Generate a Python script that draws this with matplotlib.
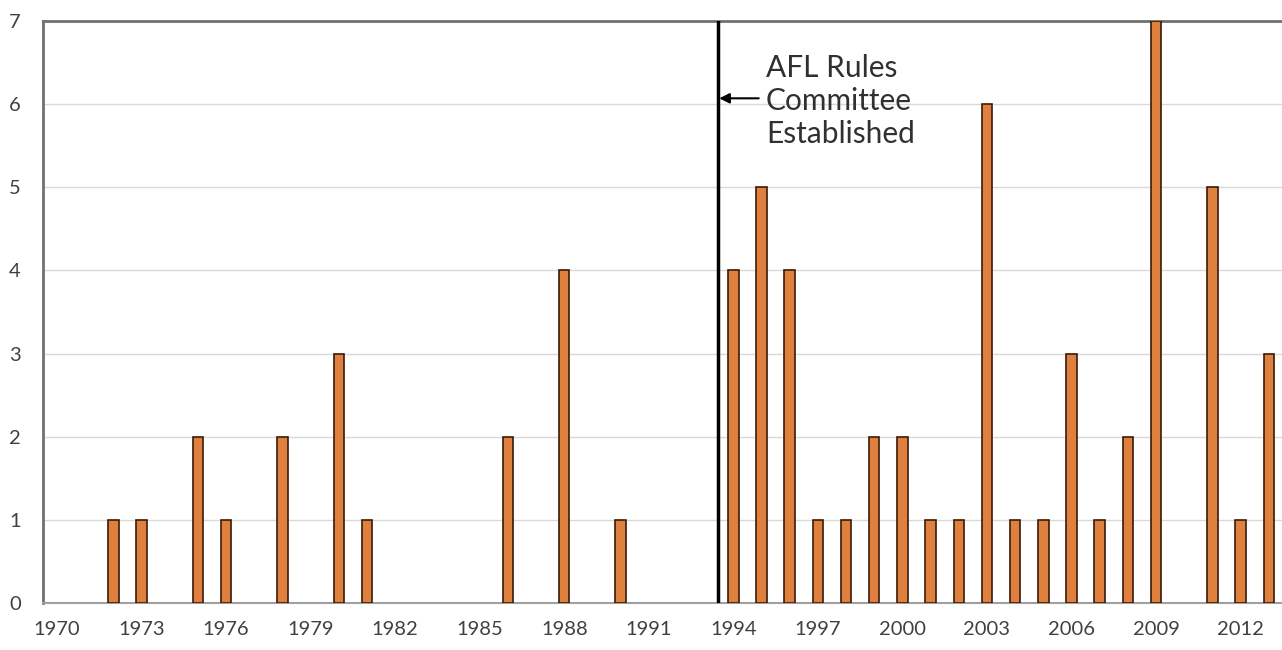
import matplotlib.pyplot as plt

# Number of events per year
years = [1972, 1973, 1975, 1976, 1978, 1980, 1981, 1986, 1988, 1990,
         1994, 1995, 1996, 1997, 1998, 1999, 2000, 2001, 2002, 2003,
         2004, 2005, 2006, 2007, 2008, 2009, 2011, 2012, 2013]
counts = [1, 1, 2, 1, 2, 3, 1, 2, 4, 1,
          4, 5, 4, 1, 1, 2, 2, 1, 1, 6,
          1, 1, 3, 1, 2, 7, 5, 1, 3]
tick_years = list(range(1970, 2013, 3))
event_year = 1993.45
event_label = 'AFL Rules\nCommittee\nEstablished'

plt.rcParams['font.family'] = ['Lato', 'DejaVu Sans']

fig = plt.figure(figsize=(12.82, 6.5), dpi=100)
ax = fig.add_axes([0.0335, 0.0723, 0.9665, 0.8954])

ax.bar(years, counts, width=0.37, color='#E0803F', edgecolor='#3a1a08',
       linewidth=1.2, zorder=3)

ax.set_xlim(1969.5, 2013.47)
ax.set_ylim(0, 7)
ax.set_xticks(tick_years)
ax.set_yticks(range(0, 8))
ax.tick_params(axis='both', length=0, labelsize=14.5, colors='#404040')
ax.tick_params(axis='x', pad=13)
ax.tick_params(axis='y', pad=16)
ax.yaxis.grid(True, color='#d9d9d9', linewidth=1, zorder=0)

for side in ['left', 'bottom', 'top']:
    ax.spines[side].set_color('#707070')
    ax.spines[side].set_linewidth(2)
ax.spines['bottom'].set_color('#a0a0a0')
ax.spines['bottom'].set_linewidth(1.5)
ax.spines['right'].set_visible(False)

ax.axvline(event_year, color='black', linewidth=2.5, zorder=4)
ax.annotate('', xy=(event_year, 6.07), xytext=(1994.9, 6.07),
            arrowprops=dict(arrowstyle='-|>', color='black', lw=1.5,
                            mutation_scale=15, shrinkA=0, shrinkB=1))
ax.text(1995.15, 6.04, event_label, ha='left', va='center', fontsize=21.5,
        color='#303030', linespacing=1.22)

fig.savefig('out.png', dpi=100)
